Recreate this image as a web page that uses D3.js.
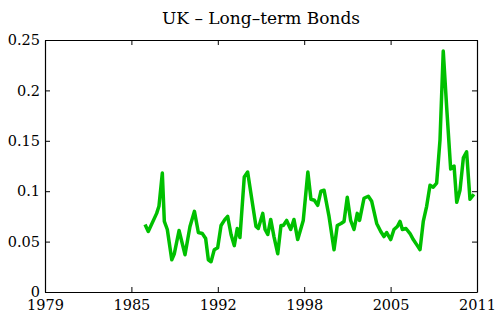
<!DOCTYPE html>
<html>
<head>
<meta charset="utf-8">
<script src="https://cdn.jsdelivr.net/npm/d3@7"></script>
<style>
  html, body { margin: 0; padding: 0; background: #fff; }
  svg { display: block; }
  .tick text { font-family: "DejaVu Serif", serif; font-size: 14.5px; fill: #000; }
  .title { font-family: "DejaVu Serif", serif; font-size: 17px; fill: #000; }
</style>
</head>
<body>
<svg id="chart" width="500" height="320"></svg>
<script>
// UK long-term bond series (decimal year, value)
const years = [
  1986.41, 1986.65, 1987.27, 1987.44, 1987.69, 1987.84, 1988.06, 1988.39, 1988.58, 1988.93,
  1989.37, 1989.74, 1990.07, 1990.36, 1990.65, 1990.90, 1991.10, 1991.30, 1991.54, 1991.79,
  1992.04, 1992.33, 1992.53, 1992.78, 1993.02, 1993.24, 1993.44, 1993.76, 1994.01, 1994.63,
  1994.80, 1995.13, 1995.30, 1995.50, 1995.72, 1995.96, 1996.24, 1996.48, 1996.65, 1996.90,
  1997.20, 1997.44, 1997.72, 1998.13, 1998.47, 1998.70, 1998.95, 1999.20, 1999.44, 1999.67,
  2000.04, 2000.41, 2000.65, 2000.93, 2001.15, 2001.39, 2001.64, 2001.89, 2002.13, 2002.30,
  2002.63, 2002.95, 2003.20, 2003.57, 2003.87, 2004.11, 2004.31, 2004.61, 2004.85, 2005.10,
  2005.30, 2005.47, 2005.74, 2006.04, 2006.28, 2006.58, 2006.78, 2007.02, 2007.27, 2007.52,
  2007.76, 2008.01, 2008.26, 2008.50, 2008.75, 2009.05, 2009.30, 2009.50, 2009.74, 2009.99,
  2010.23, 2010.48, 2010.77
];
const bondValues = [
  0.067, 0.060, 0.078, 0.085, 0.118, 0.070, 0.062, 0.032, 0.038, 0.061,
  0.037, 0.065, 0.080, 0.059, 0.058, 0.053, 0.032, 0.030, 0.042, 0.044,
  0.066, 0.072, 0.075, 0.057, 0.046, 0.063, 0.054, 0.114, 0.119, 0.065,
  0.063, 0.078, 0.062, 0.057, 0.072, 0.055, 0.038, 0.066, 0.066, 0.071,
  0.062, 0.072, 0.052, 0.071, 0.119, 0.092, 0.091, 0.086, 0.100, 0.101,
  0.075, 0.042, 0.066, 0.068, 0.070, 0.094, 0.071, 0.062, 0.078, 0.071,
  0.093, 0.095, 0.090, 0.068, 0.060, 0.055, 0.059, 0.052, 0.062, 0.065,
  0.070, 0.062, 0.063, 0.058, 0.052, 0.046, 0.042, 0.070, 0.085, 0.106,
  0.104, 0.108, 0.151, 0.239, 0.184, 0.122, 0.125, 0.089, 0.101, 0.133,
  0.139, 0.092, 0.097
];
const xTickLabels = ["1979", "1985", "1992", "1998", "2005", "2011"];
const yTickValues = [0, 0.05, 0.1, 0.15, 0.2, 0.25];
const yTickLabels = ["0", "0.05", "0.1", "0.15", "0.2", "0.25"];
const titleText = "UK \u2013 Long\u2013term Bonds";

const svg = d3.select("#chart");
const plotLeft = 45, plotRight = 477, plotTop = 40, plotBottom = 292;

const x = d3.scaleLinear().domain([1979, 2011]).range([plotLeft, plotRight]);
const y = d3.scaleLinear().domain([0, 0.25]).range([plotBottom, plotTop]);

const xTickValues = xTickLabels.map((_, i) => 1979 + i * (2011 - 1979) / (xTickLabels.length - 1));
const yLabel = d3.scaleOrdinal().domain(yTickValues).range(yTickLabels);
const xLabel = d3.scaleOrdinal().domain(xTickValues).range(xTickLabels);

// data line
const line = d3.line().x((d, i) => x(years[i])).y(d => y(d));
svg.append("path")
  .datum(bondValues)
  .attr("d", line)
  .attr("fill", "none")
  .attr("stroke", "#00c000")
  .attr("stroke-width", 3.5)
  .attr("stroke-linejoin", "round");

// axes box with inward ticks
function styleAxis(g) {
  g.selectAll("path.domain").attr("stroke", "#000").attr("stroke-width", 1.2);
  g.selectAll(".tick line").attr("stroke", "#000").attr("stroke-width", 1);
}
svg.append("g").attr("transform", `translate(0,${plotBottom})`)
  .call(d3.axisBottom(x).tickValues(xTickValues).tickFormat(d => xLabel(d))
    .tickSizeInner(-5).tickSizeOuter(0).tickPadding(8))
  .call(styleAxis);
svg.append("g").attr("transform", `translate(0,${plotTop})`)
  .call(d3.axisTop(x).tickValues(xTickValues).tickFormat("")
    .tickSizeInner(-5).tickSizeOuter(0))
  .call(styleAxis);
svg.append("g").attr("transform", `translate(${plotLeft},0)`)
  .call(d3.axisLeft(y).tickValues(yTickValues).tickFormat(d => yLabel(d))
    .tickSizeInner(-5).tickSizeOuter(0).tickPadding(5))
  .call(styleAxis);
svg.append("g").attr("transform", `translate(${plotRight},0)`)
  .call(d3.axisRight(y).tickValues(yTickValues).tickFormat("")
    .tickSizeInner(-5).tickSizeOuter(0))
  .call(styleAxis);
svg.selectAll(".tick text").attr("font-family", null).attr("font-size", null);

svg.append("text")
  .attr("class", "title")
  .attr("x", (plotLeft + plotRight) / 2)
  .attr("y", 24)
  .attr("text-anchor", "middle")
  .text(titleText);
</script>
</body>
</html>
